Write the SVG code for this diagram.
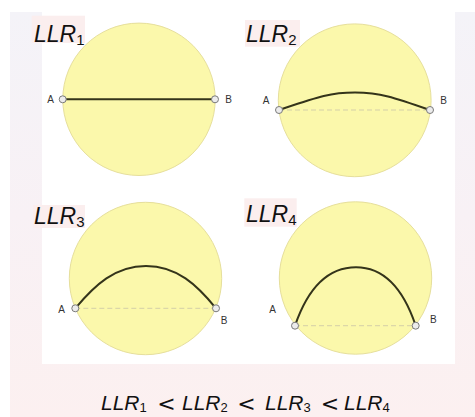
<svg xmlns="http://www.w3.org/2000/svg" width="475" height="417" viewBox="0 0 475 417">
<defs>
<linearGradient id="bg" x1="0" y1="0" x2="0" y2="1">
<stop offset="0" stop-color="#f4f3f8"/>
<stop offset="0.5" stop-color="#f8f1f5"/>
<stop offset="1" stop-color="#fcf0f0"/>
</linearGradient>
<style>
.disk{fill:#fbf8ab;stroke:#e6df9c;stroke-width:1}
.path{fill:none;stroke:#34341a;stroke-width:2;stroke-linecap:round}
.chord{fill:none;stroke:#d4cfa8;stroke-width:1;stroke-dasharray:5 3}
.pt{fill:#ececec;stroke:#7a7a7a;stroke-width:1}
.pl{font-family:"Liberation Sans",Arial,sans-serif;font-size:10px;fill:#333;text-anchor:middle}
.lbg{fill:#fbeeee}
.llr{font-family:"Liberation Sans",Arial,sans-serif;font-size:23px;font-style:italic;fill:#111}
.sub{font-size:15px;font-style:normal}
.eq{font-family:"Liberation Sans",Arial,sans-serif;font-size:21px;font-style:italic;fill:#111}
.eqs{font-size:13px;font-style:normal}
.lt{font-family:"DejaVu Sans",sans-serif;font-size:22px;fill:#111;text-anchor:middle}
</style>
</defs>
<rect x="10" y="12" width="465" height="405" fill="url(#bg)"/>
<rect x="42" y="0" width="413" height="364" fill="#ffffff"/>

<g id="llr1">
<circle class="disk" cx="139" cy="99.3" r="76.2"/>
<rect class="lbg" x="31.7" y="15.7" width="53.3" height="27.3"/>
<text class="llr" x="34" y="41.7">LLR<tspan class="sub" dy="3">1</tspan></text>
<line class="path" x1="62.7" y1="99.3" x2="215" y2="99.3"/>
<circle class="pt" cx="62.7" cy="99.3" r="3.5"/>
<circle class="pt" cx="215" cy="99.3" r="3.5"/>
<text class="pl" x="50.7" y="103.3">A</text>
<text class="pl" x="228.5" y="103.3">B</text>
</g>

<g id="llr2">
<circle class="disk" cx="354.7" cy="100.3" r="76.4"/>
<rect class="lbg" x="245" y="20" width="55" height="26.7"/>
<text class="llr" x="246" y="41.7">LLR<tspan class="sub" dy="3">2</tspan></text>
<line class="chord" x1="279" y1="110" x2="430" y2="110"/>
<path class="path" d="M279,110 C318,97 330,92.6 355,92.6 C380,92.6 393,97 430,110"/>
<circle class="pt" cx="279" cy="110" r="3.5"/>
<circle class="pt" cx="430" cy="110" r="3.5"/>
<text class="pl" x="266" y="104">A</text>
<text class="pl" x="443.5" y="104">B</text>
</g>

<g id="llr3">
<circle class="disk" cx="145.5" cy="278.5" r="76.2"/>
<rect class="lbg" x="33" y="205" width="52" height="23"/>
<text class="llr" x="34" y="224.3">LLR<tspan class="sub" dy="3">3</tspan></text>
<line class="chord" x1="75.3" y1="308.3" x2="216" y2="308.3"/>
<path class="path" d="M75.3,308.3 C95,285 115,266 146,266 C177,266 197,285 216,308.3"/>
<circle class="pt" cx="75.3" cy="308.3" r="3.5"/>
<circle class="pt" cx="216" cy="308.3" r="3.5"/>
<text class="pl" x="61.7" y="313.3">A</text>
<text class="pl" x="224" y="324.3">B</text>
</g>

<g id="llr4">
<circle class="disk" cx="355.5" cy="278" r="76.2"/>
<rect class="lbg" x="244.3" y="198.3" width="52.4" height="28.4"/>
<text class="llr" x="246" y="221.7">LLR<tspan class="sub" dy="3">4</tspan></text>
<line class="chord" x1="295" y1="325.7" x2="415.7" y2="325.7"/>
<path class="path" d="M295,325.7 C309,285 330,267.3 356,267.3 C382,267.3 402,285 415.7,325.7"/>
<circle class="pt" cx="295" cy="325.7" r="3.5"/>
<circle class="pt" cx="415.7" cy="325.7" r="3.5"/>
<text class="pl" x="272.7" y="313.3">A</text>
<text class="pl" x="433.3" y="322.7">B</text>
</g>

<g id="formula">
<text class="eq" x="101" y="410">LLR<tspan class="eqs" dy="2">1</tspan></text>
<text class="lt" x="166.5" y="410.5">&lt;</text>
<text class="eq" x="182" y="410">LLR<tspan class="eqs" dy="2">2</tspan></text>
<text class="lt" x="246.5" y="410.5">&lt;</text>
<text class="eq" x="265" y="410">LLR<tspan class="eqs" dy="2">3</tspan></text>
<text class="lt" x="330" y="410.5">&lt;</text>
<text class="eq" x="344" y="410">LLR<tspan class="eqs" dy="2">4</tspan></text>
</g>
</svg>
